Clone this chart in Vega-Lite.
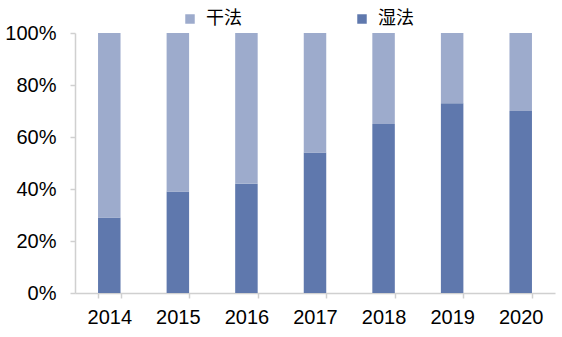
{
  "$schema": "https://vega.github.io/schema/vega-lite/v6.json",
  "autosize": {"type": "none"},
  "width": 480,
  "height": 260,
  "padding": {"left": 75, "top": 33, "right": 7, "bottom": 44},
  "background": "white",
  "data": {
    "values": [
      {"year": "2014", "method": "湿法", "share": 29}, {"year": "2014", "method": "干法", "share": 71},
      {"year": "2015", "method": "湿法", "share": 39}, {"year": "2015", "method": "干法", "share": 61},
      {"year": "2016", "method": "湿法", "share": 42}, {"year": "2016", "method": "干法", "share": 58},
      {"year": "2017", "method": "湿法", "share": 54}, {"year": "2017", "method": "干法", "share": 46},
      {"year": "2018", "method": "湿法", "share": 65}, {"year": "2018", "method": "干法", "share": 35},
      {"year": "2019", "method": "湿法", "share": 73}, {"year": "2019", "method": "干法", "share": 27},
      {"year": "2020", "method": "湿法", "share": 70}, {"year": "2020", "method": "干法", "share": 30}
    ]
  },
  "mark": {"type": "bar"},
  "encoding": {
    "x": {
      "field": "year", "type": "nominal", "title": null,
      "scale": {"paddingInner": 0.672, "paddingOuter": 0.336},
      "axis": {"labelAngle": 0, "labelFont": "Liberation Sans", "labelFontSize": 20, "labelColor": "#000000",
               "labelPadding": 9, "tickBand": "extent", "tickSize": 5, "tickColor": "#d0d0d0", "domainColor": "#d0d0d0", "domainWidth": 1.5, "tickWidth": 1.5}
    },
    "y": {
      "field": "share", "type": "quantitative", "stack": "normalize", "title": null,
      "scale": {"domain": [0, 1], "nice": false},
      "axis": {"format": ".0%", "values": [0, 0.2, 0.4, 0.6, 0.8, 1], "grid": false, "labelFont": "Liberation Sans",
               "labelFontSize": 20, "labelColor": "#000000", "labelPadding": 14, "tickSize": 5, "tickColor": "#d0d0d0",
               "domainColor": "#d0d0d0", "domainWidth": 1.5, "tickWidth": 1.5}
    },
    "color": {
      "field": "method", "type": "nominal",
      "scale": {"domain": ["干法", "湿法"], "range": ["#9dabcc", "#5f78ad"]},
      "legend": {"title": null, "orient": "none", "legendX": 106, "legendY": -23, "direction": "horizontal",
                 "symbolType": "square", "symbolSize": 90, "symbolStrokeWidth": 0, "labelFont": "Noto Sans CJK SC",
                 "labelFontSize": 18, "labelColor": "#000000", "labelOffset": 7, "columnPadding": 111}
    },
    "order": {"field": "method", "sort": "descending"}
  },
  "config": {"view": {"stroke": null}}
}
